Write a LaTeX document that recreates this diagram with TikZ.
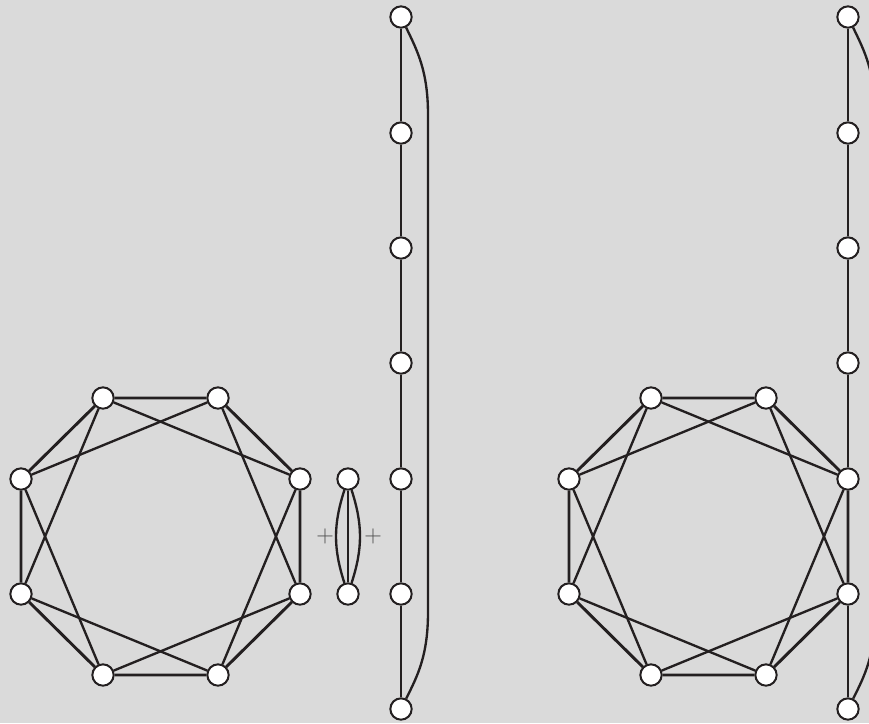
\documentclass[tikz,border=0pt]{standalone}
\usetikzlibrary{positioning}
\definecolor{bggray}{RGB}{218,218,218}
\definecolor{ink}{RGB}{35,31,32}

\begin{document}
\begin{tikzpicture}[x=0.03cm, y=-0.03cm,
  vtx/.style={circle, draw=ink, fill=white, line width=1.7pt, minimum size=0.64cm, inner sep=0pt},
  side/.style={draw=ink, line width=2.5pt},
  chord/.style={draw=ink, line width=2pt},
  plus/.style={font=\fontsize{22}{26}\selectfont, text=black!70, inner sep=0pt}]
\clip (0,0) rectangle (869,723);
\fill[bggray] (0,0) rectangle (869,723);

% left octagon
\node[vtx] (a1) at (103,398) {};
\node[vtx] (a2) at (218,398) {};
\node[vtx] (a3) at (300,479) {};
\node[vtx] (a4) at (300,594) {};
\node[vtx] (a5) at (218,675) {};
\node[vtx] (a6) at (103,675) {};
\node[vtx] (a7) at (21,594)  {};
\node[vtx] (a8) at (21,479)  {};
\draw[side]  (a1) -- (a2) -- (a3) -- (a4) -- (a5) -- (a6) -- (a7) -- (a8) -- (a1);
\draw[chord] (a1) -- (a3) -- (a5) -- (a7) -- (a1);
\draw[chord] (a2) -- (a4) -- (a6) -- (a8) -- (a2);

% double edge part
\node[plus] (p1) at (325,536) {$+$};
\node[vtx]  (s1) at (348,479) {};
\node[vtx]  (s2) at (348,594) {};
\node[plus] (p2) at (373,536) {$+$};
\draw[chord] (s1) -- (s2);
\draw[chord] (s1) to[bend left=18] (s2);
\draw[chord] (s1) to[bend right=18] (s2);

% left chain
\node[vtx] (c1) at (401,17)  {};
\node[vtx] (c2) at (401,133) {};
\node[vtx] (c3) at (401,248) {};
\node[vtx] (c4) at (401,363) {};
\node[vtx] (c5) at (401,479) {};
\node[vtx] (c6) at (401,594) {};
\node[vtx] (c7) at (401,709) {};
\draw[chord] (c1) -- (c2) -- (c3) -- (c4) -- (c5) -- (c6) -- (c7);
\draw[chord] (c1) .. controls (418,52) and (428,72) .. (428,115)
  -- (428,612) .. controls (428,655) and (418,675) .. (c7);

% right chain
\node[vtx] (d1) at (848,17)  {};
\node[vtx] (d2) at (848,133) {};
\node[vtx] (d3) at (848,248) {};
\node[vtx] (d4) at (848,363) {};
\node[vtx] (d5) at (848,479) {};
\node[vtx] (d6) at (848,594) {};
\node[vtx] (d7) at (848,709) {};
\draw[chord] (d1) -- (d2) -- (d3) -- (d4) -- (d5) -- (d6) -- (d7);
\draw[chord] (d1) .. controls (865,52) and (875,72) .. (875,115)
  -- (875,612) .. controls (875,655) and (865,675) .. (d7);

% right octagon, glued to the chain
\node[vtx] (b1) at (651,398) {};
\node[vtx] (b2) at (766,398) {};
\node[vtx] (b5) at (766,675) {};
\node[vtx] (b6) at (651,675) {};
\node[vtx] (b7) at (569,594) {};
\node[vtx] (b8) at (569,479) {};
\draw[side]  (b1) -- (b2) -- (d5) -- (d6) -- (b5) -- (b6) -- (b7) -- (b8) -- (b1);
\draw[chord] (b1) -- (d5) -- (b5) -- (b7) -- (b1);
\draw[chord] (b2) -- (d6) -- (b6) -- (b8) -- (b2);
\end{tikzpicture}
\end{document}
